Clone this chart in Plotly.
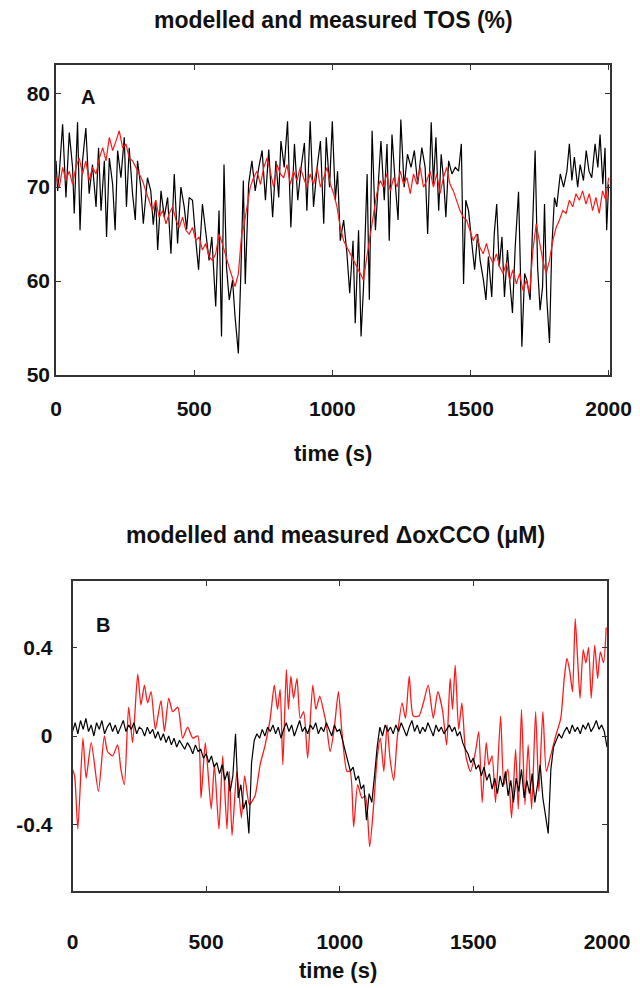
import plotly.graph_objects as go

# ---------------- Panel A: TOS (%) ----------------
A_meas_t = [0, 6, 12, 24, 36, 48, 60, 66, 78, 87, 96, 108, 120, 132, 145, 154, 163, 175, 183, 193,
            205, 214, 223, 235, 247, 255, 265, 277, 287, 295, 307, 316, 331, 343, 352, 361, 368, 380, 392, 404,
            416, 428, 440, 452, 464, 473, 482, 494, 506, 516, 530, 542, 554, 564, 578, 590, 599, 608, 617, 627,
            639, 648, 660, 669, 678, 685, 697, 709, 721, 734, 746, 758, 770, 784, 796, 806, 814, 826, 838, 850,
            863, 875, 887, 899, 908, 920, 932, 945, 957, 969, 978, 990, 1000, 1011, 1019, 1029, 1041, 1053, 1063, 1075,
            1083, 1095, 1104, 1113, 1126, 1134, 1144, 1156, 1164, 1176, 1188, 1198, 1206, 1216, 1228, 1238, 1248, 1260, 1272, 1285,
            1297, 1309, 1324, 1336, 1345, 1358, 1366, 1375, 1385, 1394, 1403, 1411, 1421, 1433, 1445, 1457, 1467, 1475, 1483, 1493,
            1505, 1515, 1526, 1535, 1547, 1556, 1565, 1577, 1586, 1595, 1604, 1614, 1623, 1634, 1644, 1652, 1662, 1674, 1680, 1686,
            1696, 1704, 1716, 1725, 1734, 1743, 1752, 1761, 1768, 1776, 1786, 1794, 1804, 1812, 1825, 1837, 1849, 1858, 1867, 1876,
            1888, 1897, 1909, 1919, 1929, 1939, 1951, 1961, 1969, 1979, 1987, 1993, 2000]
A_meas_v = [72.8, 69.6, 71.5, 76.7, 68.9, 75.8, 72.1, 67.2, 76.9, 65.4, 72.8, 76.3, 69.3, 72.4, 67.9, 74.2, 67.5, 72.8, 64.7, 73.1,
            70.3, 65.4, 73.9, 71.0, 75.3, 67.9, 74.2, 69.3, 66.5, 72.8, 70.0, 66.1, 71.0, 69.6, 66.0, 68.6, 63.3, 69.6, 66.8, 68.9,
            62.9, 71.4, 64.0, 70.0, 67.9, 65.5, 68.9, 68.6, 64.3, 61.2, 68.2, 65.0, 62.2, 64.7, 57.3, 67.5, 54.1, 72.4, 61.5, 58.0,
            60.1, 56.2, 52.3, 60.8, 70.7, 59.7, 70.3, 72.8, 69.6, 72.1, 73.9, 68.6, 74.0, 66.8, 72.8, 68.9, 74.9, 72.1, 77.0, 65.7,
            74.6, 68.6, 72.1, 74.7, 67.5, 77.0, 67.9, 72.1, 74.9, 66.1, 75.3, 70.0, 77.0, 68.6, 71.7, 64.3, 66.5, 62.9, 58.7, 64.3,
            55.5, 65.4, 54.1, 59.4, 71.4, 58.0, 76.0, 65.4, 69.3, 74.9, 68.6, 74.6, 64.3, 75.6, 70.3, 66.5, 77.2, 70.0, 73.5, 72.1,
            73.9, 70.3, 74.2, 72.1, 65.0, 76.9, 70.3, 75.3, 67.5, 73.5, 70.7, 66.8, 72.8, 71.4, 72.1, 71.7, 74.6, 59.7, 68.6, 67.5,
            64.0, 61.2, 65.0, 62.2, 60.1, 58.0, 62.6, 58.3, 65.0, 68.2, 61.5, 64.7, 58.3, 63.3, 59.4, 56.6, 63.7, 69.5, 62.2, 53.0,
            60.8, 60.1, 58.0, 65.0, 73.9, 61.5, 56.9, 59.4, 68.2, 58.3, 53.4, 63.3, 68.9, 67.9, 71.4, 70.0, 71.7, 74.6, 70.7, 73.2,
            70.0, 72.4, 70.7, 73.9, 71.7, 71.0, 74.6, 72.1, 75.6, 70.3, 74.2, 65.4, 70.3]

A_model_t = [0, 12, 24, 36, 48, 60, 72, 84, 96, 108, 120, 132, 145, 157, 169, 181, 193, 205, 217, 229,
             241, 253, 265, 277, 289, 301, 313, 325, 337, 349, 361, 373, 386, 398, 410, 422, 434, 446, 458, 470,
             482, 494, 506, 518, 530, 542, 554, 566, 578, 590, 602, 614, 626, 638, 648, 660, 672, 679, 691, 703,
             715, 727, 740, 752, 764, 776, 788, 800, 812, 824, 836, 848, 860, 872, 884, 896, 908, 920, 932, 945,
             957, 969, 981, 993, 1005, 1017, 1029, 1041, 1053, 1065, 1077, 1089, 1101, 1113, 1125, 1137, 1149, 1161, 1173, 1185,
             1197, 1210, 1222, 1234, 1246, 1258, 1270, 1282, 1294, 1306, 1318, 1330, 1342, 1354, 1366, 1378, 1390, 1402, 1414, 1426,
             1438, 1450, 1462, 1474, 1486, 1498, 1510, 1522, 1534, 1546, 1558, 1570, 1582, 1594, 1606, 1618, 1630, 1642, 1654, 1666,
             1678, 1690, 1702, 1714, 1726, 1738, 1750, 1762, 1774, 1786, 1798, 1810, 1822, 1834, 1846, 1858, 1870, 1882, 1894, 1906,
             1918, 1930, 1942, 1954, 1966, 1978, 1990, 2000]
A_model_v = [71.0, 70.0, 72.1, 70.7, 71.7, 70.3, 72.1, 73.1, 71.4, 72.8, 70.7, 72.1, 71.4, 73.1, 74.2, 72.8, 75.3, 73.9, 74.9, 76.0,
             74.2, 74.6, 73.1, 72.8, 72.1, 71.4, 70.7, 69.6, 68.6, 67.5, 68.6, 66.8, 67.5, 66.1, 67.2, 67.9, 66.5, 65.7, 66.8, 65.4,
             65.0, 65.7, 64.3, 64.7, 63.3, 64.0, 62.6, 62.2, 62.9, 65.0, 64.0, 62.6, 61.5, 60.4, 59.4, 60.8, 65.0, 65.7, 67.9, 70.0,
             71.0, 71.7, 70.3, 72.1, 73.1, 71.4, 70.0, 72.4, 71.4, 71.0, 72.4, 70.3, 71.7, 70.7, 72.1, 71.0, 70.0, 71.4, 70.3, 72.1,
             70.0, 71.0, 72.1, 70.3, 69.3, 67.9, 65.7, 64.3, 63.6, 62.9, 62.2, 61.5, 60.8, 60.1, 62.6, 65.0, 67.2, 69.3, 70.7, 70.0,
             71.4, 69.6, 71.0, 70.0, 71.7, 70.3, 71.0, 69.3, 71.4, 70.3, 72.1, 70.0, 70.7, 71.7, 70.0, 71.4, 69.3, 71.0, 72.1, 70.3,
             69.6, 68.6, 67.5, 66.8, 66.5, 65.4, 64.3, 65.0, 63.6, 62.9, 64.0, 62.6, 61.9, 62.9, 61.5, 60.8, 61.9, 60.1, 61.2, 59.7,
             60.8, 59.0, 60.1, 58.7, 63.3, 66.1, 64.0, 62.2, 60.8, 62.2, 64.3, 65.7, 66.5, 67.5, 67.2, 68.6, 67.9, 69.3, 68.6, 69.6,
             68.2, 69.3, 67.5, 68.9, 67.2, 69.6, 68.6, 71.0]

# ---------------- Panel B: delta oxCCO (uM) ----------------
B_meas_t0, B_meas_dt = 0, 10
B_meas_v = [
    0.02, 0.06, 0.01, 0.07, 0.03, 0.08, 0.02, 0.05, 0.00, 0.06,      # 0-90
    0.03, 0.07, 0.01, 0.04, 0.06, 0.02, 0.05, 0.01, 0.04, 0.07,      # 100-190
    0.02, 0.05, 0.03, 0.06, 0.01, 0.04, 0.03, 0.00, 0.04, 0.01,      # 200-290
    0.03, -0.01, 0.02, -0.02, 0.01, -0.03, 0.00, -0.04, -0.01, -0.05,  # 300-390
    -0.02, -0.04, -0.06, -0.03, -0.05, -0.08, -0.04, -0.07, -0.06, -0.10,  # 400-490
    -0.08, -0.12, -0.09, -0.14, -0.12, -0.17, -0.13, -0.20, -0.16, -0.25,  # 500-590
    -0.18, 0.01, -0.28, -0.22, -0.33, -0.29, -0.44, -0.12, -0.02, 0.01,   # 600-690
    -0.01, 0.03, 0.00, 0.04, 0.02, 0.05, 0.01, 0.04, -0.01, 0.03,     # 700-790
    0.06, 0.02, 0.05, 0.00, 0.04, 0.07, 0.02, 0.04, 0.01, 0.05,      # 800-890
    0.03, 0.06, 0.01, 0.04, 0.02, 0.06, 0.03, 0.00, 0.05, 0.02,      # 900-990
    0.03, -0.02, -0.06, -0.12, -0.16, -0.14, -0.20, -0.18, -0.24, -0.22,  # 1000-1090
    -0.38, -0.26, -0.30, -0.18, -0.05, 0.04, 0.00, 0.05, 0.02, 0.04,  # 1100-1190
    0.01, 0.05, 0.02, 0.06, 0.03, 0.00, 0.04, 0.07, 0.02, 0.05,      # 1200-1290
    0.01, 0.04, 0.02, 0.06, 0.03, 0.00, 0.05, 0.02, 0.04, 0.01,      # 1300-1390
    0.03, 0.05, 0.02, 0.04, 0.00, 0.02, -0.03, -0.06, -0.08, -0.12,  # 1400-1490
    -0.10, -0.15, -0.13, -0.18, -0.14, -0.20, -0.17, -0.24, -0.19, -0.26,  # 1500-1590
    -0.18, -0.23, -0.16, -0.27, -0.20, -0.30, -0.19, -0.25, -0.15, -0.28,  # 1600-1690
    -0.20, -0.26, -0.17, -0.30, -0.22, -0.13, -0.28, -0.36, -0.44, -0.15,  # 1700-1790
    -0.05, -0.02, 0.01, -0.01, 0.02, 0.04, 0.01, 0.05, 0.02, 0.04,   # 1800-1890
    0.01, 0.05, 0.03, 0.06, 0.02, 0.04, 0.07, 0.03, 0.05, 0.02,      # 1900-1990
    -0.05,                                                           # 2000
]
B_meas_t = [B_meas_t0 + i * B_meas_dt for i in range(len(B_meas_v))]

B_model_t = [0, 8, 20, 39, 51, 70, 97, 119, 131, 150, 169, 181, 194, 210, 225, 244, 256, 269, 281, 294,
             310, 331, 344, 360, 375, 394, 412, 431, 450, 469, 481, 497, 519, 531, 548, 562, 578, 587, 597, 615,
             632, 644, 662, 683, 702, 721, 740, 755, 767, 777, 787, 800, 808, 817, 827, 840, 852, 865, 880, 899,
             911, 925, 940, 950, 964, 979, 995, 1008, 1027, 1039, 1052, 1067, 1083, 1096, 1112, 1127, 1140, 1152, 1165, 1177,
             1188, 1202, 1215, 1233, 1246, 1260, 1275, 1296, 1313, 1331, 1350, 1367, 1384, 1400, 1413, 1422, 1432, 1445, 1457, 1472,
             1489, 1508, 1520, 1533, 1548, 1558, 1570, 1583, 1602, 1614, 1629, 1643, 1658, 1668, 1680, 1693, 1705, 1718, 1733, 1745,
             1760, 1773, 1789, 1808, 1827, 1840, 1850, 1861, 1871, 1881, 1890, 1899, 1911, 1921, 1931, 1941, 1954, 1965, 1975, 1987,
             1997]
B_model_v = [-0.15, -0.18, -0.42, -0.01, -0.19, -0.03, -0.25, 0.00, -0.07, -0.09, -0.04, -0.15, -0.22, 0.13, -0.03, 0.28, 0.14, 0.23, 0.15, 0.20,
             0.03, 0.16, 0.02, 0.17, 0.11, 0.13, -0.01, 0.04, -0.01, 0.00, -0.28, -0.03, -0.33, -0.13, -0.42, -0.09, -0.42, -0.16, -0.45, -0.16,
             -0.37, -0.18, -0.31, -0.27, -0.13, -0.04, 0.08, 0.23, 0.12, 0.21, -0.13, 0.30, 0.12, 0.27, 0.17, 0.26, 0.08, 0.11, -0.10, 0.23,
             0.12, 0.18, 0.11, 0.05, -0.07, 0.03, 0.20, 0.02, -0.16, -0.16, -0.41, -0.22, -0.28, -0.27, -0.50, -0.31, -0.10, -0.01, -0.16, 0.05,
             -0.10, -0.20, -0.01, 0.15, 0.08, 0.27, 0.09, 0.09, 0.15, 0.23, 0.08, 0.20, 0.12, -0.04, 0.26, 0.12, 0.32, 0.03, 0.15, -0.09,
             -0.16, -0.07, 0.02, -0.30, -0.03, -0.13, -0.09, -0.30, 0.09, -0.22, -0.15, -0.37, -0.06, -0.33, 0.12, -0.31, -0.04, -0.33, 0.11, -0.25,
             0.11, -0.16, -0.09, 0.00, 0.08, 0.26, 0.35, 0.29, 0.20, 0.53, 0.35, 0.17, 0.39, 0.33, 0.40, 0.17, 0.41, 0.26, 0.38, 0.33,
             0.49]

A_yticks = [50, 60, 70, 80]
B_yticks = [-0.4, 0, 0.4]
B_yticktext = ["-0.4", "0", "0.4"]
x_ticks = [0, 500, 1000, 1500, 2000]

W, H = 640, 988
FONT = "Liberation Sans, Arial, Helvetica, sans-serif"
BLACK = "#000000"
RED = "#ff1a1a"
TICK_SIZE = 21
TEXT_SIZE = 22
TITLE_SIZE = 23

fig = go.Figure()
fig.add_trace(go.Scatter(x=A_meas_t, y=A_meas_v, mode="lines", line=dict(color=BLACK, width=1.2),
                         xaxis="x", yaxis="y", showlegend=False))
fig.add_trace(go.Scatter(x=A_model_t, y=A_model_v, mode="lines", line=dict(color=RED, width=1.2),
                         xaxis="x", yaxis="y", showlegend=False))
fig.add_trace(go.Scatter(x=B_model_t, y=B_model_v, mode="lines", line=dict(color=RED, width=1.3, shape="spline", smoothing=0.6),
                         xaxis="x2", yaxis="y2", showlegend=False))
fig.add_trace(go.Scatter(x=B_meas_t, y=B_meas_v, mode="lines", line=dict(color=BLACK, width=1.2),
                         xaxis="x2", yaxis="y2", showlegend=False))

def px_dom_x(a, b):
    return [a / W, b / W]

def px_dom_y(top, bottom):
    return [1 - bottom / H, 1 - top / H]

axis_common = dict(showline=True, linecolor="#333333", linewidth=1.5, mirror="ticks",
                   ticks="inside", ticklen=5, tickwidth=1.2, tickcolor="#333333",
                   showgrid=False, zeroline=False, automargin=False,
                   tickfont=dict(family=FONT, size=TICK_SIZE, color="#111111", weight="bold"))

fig.update_layout(
    width=W, height=H, autosize=False,
    margin=dict(l=0, r=0, t=0, b=0, pad=0, autoexpand=False),
    showlegend=False,
    paper_bgcolor="white", plot_bgcolor="white",
    xaxis=dict(domain=px_dom_x(56, 610), range=[0, 2005], tickvals=x_ticks, anchor="y",
               ticklabelstandoff=14, **axis_common),
    yaxis=dict(domain=px_dom_y(65, 375), range=[50, 83], tickvals=A_yticks, anchor="x",
               ticklabelstandoff=0, **axis_common),
    xaxis2=dict(domain=px_dom_x(72.5, 607), range=[0, 2000], tickvals=x_ticks, anchor="y2",
                ticklabelstandoff=31, **axis_common),
    yaxis2=dict(domain=px_dom_y(581, 891), range=[-0.7, 0.7], tickvals=B_yticks, ticktext=B_yticktext,
                anchor="x2", ticklabelstandoff=14, **axis_common),
)

def text_px(txt, x, y, size):
    fig.add_annotation(text=txt, x=x / W, y=1 - y / H, xref="paper", yref="paper",
                       xanchor="center", yanchor="middle", showarrow=False,
                       font=dict(family=FONT, size=size, color="#111111", weight="bold"))

text_px("modelled and measured TOS (%)", 333, 20, TITLE_SIZE)
text_px("time (s)", 333, 453, TEXT_SIZE)
text_px("A", 88, 97, 20)
text_px("modelled and measured \u0394oxCCO (\u03bcM)", 335, 535, TITLE_SIZE)
text_px("time (s)", 338, 970, TEXT_SIZE)
text_px("B", 103, 625, 20)

fig.write_html("out.html")
